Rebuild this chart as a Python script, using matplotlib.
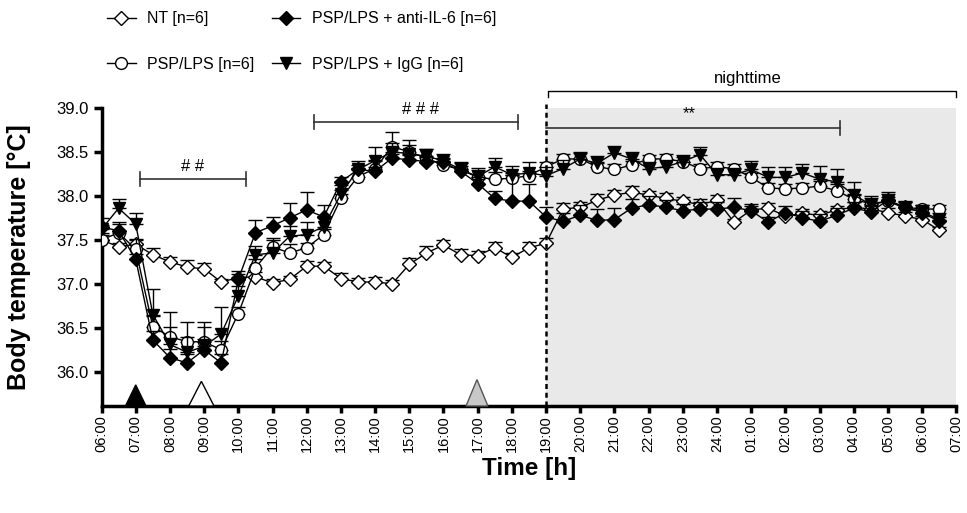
import numpy as np
import matplotlib
matplotlib.use("Agg")
import matplotlib.pyplot as plt
from matplotlib.patches import Polygon

plt.rcParams["font.family"] = ["Liberation Sans", "DejaVu Sans"]

# Körpertemperatur, 30-min Mittelwerte (+SEM), 06:00 -> 06:30 am Folgetag
hours = np.arange(0, 25, 0.5)

nt = [37.50, 37.42, 37.45, 37.33, 37.25, 37.19, 37.17, 37.02, 37.07, 37.08,
      37.01, 37.05, 37.20, 37.20, 37.06, 37.02, 37.02, 37.00, 37.22, 37.35,
      37.44, 37.33, 37.32, 37.41, 37.30, 37.41, 37.46, 37.85, 37.87, 37.95,
      38.01, 38.04, 38.01, 37.97, 37.94, 37.90, 37.95, 37.70, 37.84, 37.86,
      37.77, 37.80, 37.78, 37.84, 37.87, 37.85, 37.81, 37.77, 37.73, 37.61]
nt_err = [0.05, 0.04, 0.05, 0.08, 0.05, 0.075, 0.07, 0.03, 0.04, 0.05,
          0.05, 0.04, 0.06, 0.05, 0.06, 0.05, 0.06, 0.04, 0.07, 0.08,
          0.06, 0.07, 0.05, 0.06, 0.05, 0.06, 0.06, 0.07, 0.06, 0.07,
          0.06, 0.07, 0.05, 0.06, 0.05, 0.06, 0.06, 0.04, 0.05, 0.06,
          0.04, 0.05, 0.05, 0.05, 0.06, 0.06, 0.05, 0.05, 0.04, 0.04]

psp = [37.50, 37.58, 37.39, 36.51, 36.40, 36.34, 36.34, 36.25, 36.66, 37.18,
       37.42, 37.35, 37.41, 37.56, 37.97, 38.22, 38.31, 38.56, 38.50, 38.43,
       38.35, 38.30, 38.21, 38.19, 38.20, 38.23, 38.33, 38.42, 38.42, 38.33,
       38.30, 38.35, 38.42, 38.42, 38.39, 38.31, 38.33, 38.31, 38.21, 38.09,
       38.08, 38.09, 38.11, 38.06, 37.96, 37.91, 37.94, 37.87, 37.85, 37.85]
psp_err = [0.08, 0.10, 0.12, 0.12, 0.28, 0.22, 0.22, 0.10, 0.08, 0.10,
           0.10, 0.10, 0.05, 0.06, 0.10, 0.10, 0.10, 0.17, 0.14, 0.10,
           0.07, 0.07, 0.08, 0.08, 0.06, 0.05, 0.06, 0.06, 0.07, 0.06,
           0.06, 0.05, 0.05, 0.06, 0.05, 0.05, 0.06, 0.05, 0.05, 0.06,
           0.05, 0.06, 0.06, 0.07, 0.06, 0.07, 0.05, 0.06, 0.05, 0.05]

anti_il6 = [37.65, 37.60, 37.28, 36.36, 36.16, 36.10, 36.25, 36.10, 37.05, 37.58,
            37.66, 37.75, 37.84, 37.76, 38.16, 38.30, 38.28, 38.43, 38.41, 38.39,
            38.38, 38.28, 38.14, 37.97, 37.94, 37.94, 37.76, 37.71, 37.78, 37.72,
            37.73, 37.86, 37.90, 37.87, 37.83, 37.85, 37.85, 37.87, 37.83, 37.70,
            37.81, 37.75, 37.71, 37.78, 37.86, 37.82, 37.95, 37.87, 37.81, 37.71]
anti_il6_err = [0.10, 0.10, 0.06, 0.10, 0.10, 0.10, 0.12, 0.10, 0.10, 0.15,
                0.10, 0.17, 0.20, 0.14, 0.06, 0.05, 0.05, 0.05, 0.05, 0.05,
                0.05, 0.06, 0.05, 0.08, 0.30, 0.20, 0.11, 0.10, 0.12, 0.13,
                0.13, 0.10, 0.10, 0.08, 0.08, 0.08, 0.08, 0.10, 0.08, 0.06,
                0.07, 0.08, 0.08, 0.08, 0.07, 0.07, 0.07, 0.06, 0.06, 0.05]

igg = [37.62, 37.86, 37.68, 36.65, 36.31, 36.22, 36.29, 36.43, 36.86, 37.33,
       37.35, 37.54, 37.56, 37.65, 38.02, 38.30, 38.40, 38.50, 38.48, 38.45,
       38.40, 38.30, 38.22, 38.33, 38.24, 38.26, 38.23, 38.31, 38.42, 38.37,
       38.49, 38.42, 38.31, 38.33, 38.39, 38.47, 38.24, 38.24, 38.30, 38.21,
       38.21, 38.26, 38.19, 38.16, 38.01, 37.90, 37.94, 37.86, 37.82, 37.73]
igg_err = [0.05, 0.10, 0.12, 0.29, 0.20, 0.18, 0.22, 0.31, 0.12, 0.10,
           0.15, 0.12, 0.14, 0.12, 0.10, 0.10, 0.15, 0.10, 0.10, 0.08,
           0.08, 0.08, 0.10, 0.10, 0.10, 0.12, 0.10, 0.10, 0.08, 0.08,
           0.08, 0.08, 0.08, 0.08, 0.08, 0.08, 0.08, 0.08, 0.10, 0.12,
           0.12, 0.10, 0.15, 0.15, 0.15, 0.10, 0.10, 0.08, 0.08, 0.07]

tick_labels = ["06:00", "07:00", "08:00", "09:00", "10:00", "11:00", "12:00",
               "13:00", "14:00", "15:00", "16:00", "17:00", "18:00", "19:00",
               "20:00", "21:00", "22:00", "23:00", "24:00", "01:00", "02:00",
               "03:00", "04:00", "05:00", "06:00", "07:00"]

# Injektionen (Dreiecke an der x-Achse): Zeitpunkt, Farbe
inj_times = [1.0, 2.92, 10.98]
inj_colors = ["black", "white", "#c8c8c8"]

night_start, night_end = 13, 25
ymin, ymax = 35.61, 39.0

fig = plt.figure(figsize=(9.67, 5.13), dpi=100)
ax = fig.add_axes([0.105, 0.2086, 0.884, 0.581])

ax.axvspan(night_start, night_end, color="#e9e9e9", zorder=0, lw=0)

series = [
    (nt, nt_err, "D", "white", 7.5, "NT [n=6]"),
    (psp, psp_err, "o", "white", 8.5, "PSP/LPS [n=6]"),
    (anti_il6, anti_il6_err, "D", "black", 7.5, "PSP/LPS + anti-IL-6 [n=6]"),
    (igg, igg_err, "v", "black", 8.5, "PSP/LPS + IgG [n=6]"),
]
handles = []
for i, (vals, err, mk, fc, ms, lab) in enumerate(series):
    vals = np.array(vals)
    err = np.array(err)
    ax.errorbar(hours, vals, yerr=[np.zeros_like(err), err], fmt="none",
                ecolor="black", elinewidth=1, capsize=5, capthick=1, zorder=2 + i)
    h, = ax.plot(hours, vals, color="black", lw=1, marker=mk, ms=ms,
                 mfc=fc, mec="black", mew=1, zorder=3 + i, label=lab)
    handles.append(h)

# Nacht-Grenze
ax.plot([night_start, night_start], [ymin, 39.04], color="black", lw=1.8,
        ls=(0, (2, 1.5)), clip_on=False, zorder=10)

# Injektionsdreiecke
for t, c, hw, hh in zip(inj_times, inj_colors, [0.3, 0.37, 0.32], [0.24, 0.28, 0.3]):
    ec = "#555555" if c == "#c8c8c8" else "black"
    ax.add_patch(Polygon([[t - hw, ymin], [t + hw, ymin], [t, ymin + hh]],
                         closed=True, fc=c, ec=ec, lw=1, clip_on=False, zorder=9))

# Signifikanz-Klammern
def bracket(x0, x1, y, txt, ty, tx, left=True, right=True, d=0.08):
    ax.plot([x0, x1], [y, y], color="#333333", lw=1.2, clip_on=False)
    if left:
        ax.plot([x0, x0], [y - d, y + d], color="#333333", lw=1.2, clip_on=False)
    if right:
        ax.plot([x1, x1], [y - d, y + d], color="#333333", lw=1.2, clip_on=False)
    ax.text(tx, ty, txt, ha="center", va="center", fontsize=12, clip_on=False)

bracket(1.12, 4.22, 38.19, "# #", 38.33, 2.67)
bracket(6.21, 12.18, 38.84, "# # #", 38.98, 9.33)
bracket(13.0, 21.59, 38.77, "**", 38.94, 17.2, left=False)

# nighttime
ax.plot([13.05, 13.05, 25, 25], [39.13, 39.19, 39.19, 39.13], color="black",
        lw=1, clip_on=False)
ax.text(18.9, 39.34, "nighttime", ha="center", va="center", fontsize=12)

ax.set_xlim(0, 25)
ax.set_ylim(ymin, ymax)
ax.set_xticks(range(26))
ax.set_xticklabels(tick_labels, rotation=90, fontsize=10.5)
ax.set_yticks([36.0, 36.5, 37.0, 37.5, 38.0, 38.5, 39.0])
ax.set_yticklabels(["36.0", "36.5", "37.0", "37.5", "38.0", "38.5", "39.0"], fontsize=12)
for s in ["top", "right"]:
    ax.spines[s].set_visible(False)
for s in ["left", "bottom"]:
    ax.spines[s].set_linewidth(2.5)
ax.tick_params(width=2.5, length=6)
ax.tick_params(axis="x", length=5, pad=1.5)

ax.set_ylabel("Body temperature [°C]", fontsize=18, fontweight="bold")
ax.yaxis.set_label_coords(-0.083, 0.5)
ax.set_xlabel("Time [h]", fontsize=17.5, fontweight="bold")
ax.xaxis.set_label_coords(0.5, -0.17)

fig.legend(handles=handles, loc="upper left", bbox_to_anchor=(0.099, 1.0),
           ncol=2, frameon=False, fontsize=11.5, handlelength=1.8,
           handletextpad=0.7, columnspacing=1.1, labelspacing=1.9,
           borderaxespad=0.3)

fig.savefig("out.png", dpi=100)
